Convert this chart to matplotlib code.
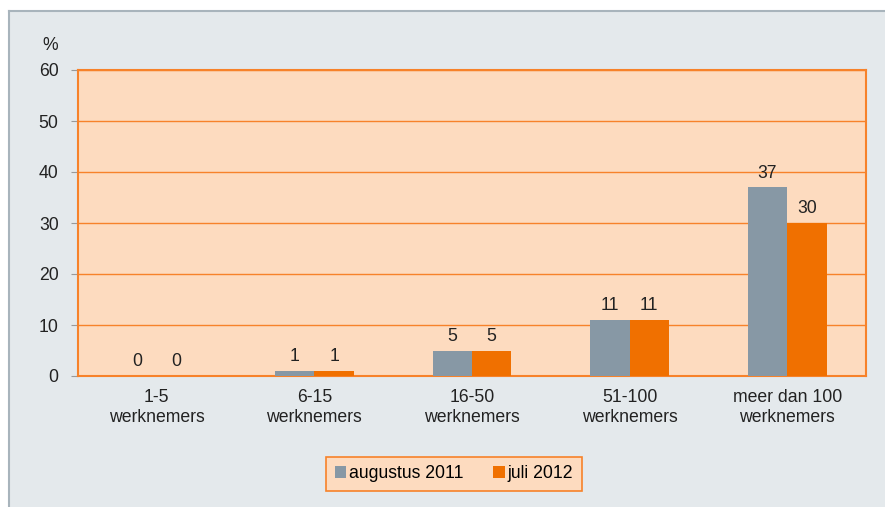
import matplotlib
matplotlib.use("Agg")
import matplotlib.pyplot as plt
import numpy as np
from matplotlib.patches import Rectangle
from matplotlib.lines import Line2D

categories = ["1-5\nwerknemers", "6-15\nwerknemers", "16-50\nwerknemers",
              "51-100\nwerknemers", "meer dan 100\nwerknemers"]
aug_2011 = [0, 1, 5, 11, 37]
jul_2012 = [0, 1, 5, 11, 30]
series_names = ["augustus 2011", "juli 2012"]

GRAY = "#8798a5"
ORANGE = "#f07000"
PEACH = "#fddbbf"
LINE = "#f7822a"
BG = "#e4e9ec"
FS = 12.7

plt.rcParams["font.family"] = ["Liberation Sans", "DejaVu Sans"]

fig = plt.figure(figsize=(8.85, 5.07), dpi=100)
fig.patch.set_facecolor("white")
# background panel with thin border on top/left
fig.patches.append(Rectangle((8 / 885, 0), 1, 1 - 10 / 507, transform=fig.transFigure,
                             facecolor=BG, edgecolor="none", zorder=-10))
fig.lines.append(Line2D([8.5 / 885, 1], [1 - 10.5 / 507] * 2, transform=fig.transFigure,
                        color="#a8b4bc", lw=1.5))
fig.lines.append(Line2D([8.5 / 885] * 2, [0, 1 - 10.5 / 507], transform=fig.transFigure,
                        color="#a8b4bc", lw=1.5))

ax = fig.add_axes([78 / 885, 1 - 376 / 507, 788 / 885, 306 / 507])
ax.set_facecolor(PEACH)

x = np.arange(len(categories))
w = 0.25
b1 = ax.bar(x - w / 2, aug_2011, w, color=GRAY, label=series_names[0], zorder=3)
b2 = ax.bar(x + w / 2, jul_2012, w, color=ORANGE, label=series_names[1], zorder=3)
for bars, vals in ((b1, aug_2011), (b2, jul_2012)):
    for b, v in zip(bars, vals):
        ax.text(b.get_x() + b.get_width() / 2, v + 1.1, f"{v}",
                ha="center", va="bottom", fontsize=FS, color="#222222")

ax.set_xlim(-0.5, len(categories) - 0.5)
ax.set_ylim(0, 60)
ax.set_yticks(range(0, 61, 10))
ax.yaxis.grid(True, color=LINE, lw=1.0, zorder=1)
ax.set_axisbelow(True)
for s in ax.spines.values():
    s.set_color(LINE)
    s.set_linewidth(1.5)

ax.set_xticks(x)
ax.set_xticklabels(categories, fontsize=FS, color="#222222", linespacing=1.3)
ax.tick_params(axis="x", length=0, pad=9)
ax.tick_params(axis="y", length=5, color="#999999", labelsize=FS, labelcolor="#222222", pad=9)
fig.text(50 / 885, 1 - 45 / 507, "%", fontsize=FS, ha="center", va="center", color="#222222")

leg = fig.legend(handles=[b1, b2], loc="center", bbox_to_anchor=(454 / 885, 1 - 474 / 507),
                 ncol=2, fontsize=FS, frameon=True, fancybox=False,
                 handlelength=0.65, handleheight=0.65, handletextpad=0.15, columnspacing=1.7,
                 borderpad=0.5, borderaxespad=0)
leg.get_frame().set_facecolor(PEACH)
leg.get_frame().set_edgecolor(LINE)
leg.get_frame().set_linewidth(1.2)
leg.get_frame().set_alpha(1)

fig.savefig("out.png", dpi=100)
